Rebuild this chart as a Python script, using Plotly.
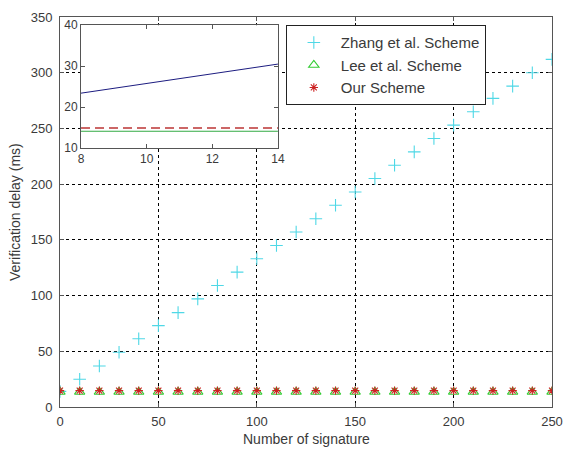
import plotly.graph_objects as go

# ---- data ----
n_sig = [0, 10, 20, 30, 40, 50, 60, 70, 80, 90, 100, 110, 120, 130, 140, 150,
         160, 170, 180, 190, 200, 210, 220, 230, 240, 250]
zhang = [14, 24.9, 36.8, 49.1, 61.3, 73, 84.7, 97, 109, 121, 133, 145, 157, 169,
         181, 193, 205, 217, 229, 241, 253, 265, 277, 288, 300, 312]
lee = [13.5] * 26
ours = [14.7] * 26

inset_x = [8, 10, 12, 14]
inset_zhang = [23.4, 25.8, 28.1, 30.5]
inset_lee = [14.1, 14.1, 14.1, 14.1]
inset_ours = [14.9, 14.9, 14.9, 14.9]

x_ticks = [0, 50, 100, 150, 200, 250]
y_ticks = [0, 50, 100, 150, 200, 250, 300, 350]
inset_xticks = [8, 10, 12, 14]
inset_yticks = [10, 20, 30, 40]

FONT = "Liberation Sans, Arial, sans-serif"
TXT = "#3a3a3a"
AX = "#555555"

fig = go.Figure()
fig.add_trace(go.Scatter(x=n_sig, y=zhang, mode="markers", name="Zhang et al. Scheme",
                         marker=dict(symbol="cross-thin-open", size=9, color="#4fd8e6",
                                     line=dict(width=1.1, color="#4fd8e6"))))
fig.add_trace(go.Scatter(x=n_sig, y=lee, mode="markers", name="Lee et al. Scheme",
                         marker=dict(symbol="triangle-up-open", size=9, color="#33cc33",
                                     line=dict(width=1.1, color="#33cc33"))))
fig.add_trace(go.Scatter(x=n_sig, y=ours, mode="markers", name="Our Scheme",
                         marker=dict(symbol="asterisk-open", size=7, color="#cc2222",
                                     line=dict(width=1.1, color="#cc2222"))))

fig.add_trace(go.Scatter(x=inset_x, y=inset_zhang, mode="lines", xaxis="x2", yaxis="y2",
                         showlegend=False, line=dict(color="#1c1c80", width=1)))
fig.add_trace(go.Scatter(x=inset_x, y=inset_lee, mode="lines", xaxis="x2", yaxis="y2",
                         showlegend=False, line=dict(color="#33aa44", width=1)))
fig.add_trace(go.Scatter(x=inset_x, y=inset_ours, mode="lines", xaxis="x2", yaxis="y2",
                         showlegend=False, line=dict(color="#cc6666", width=2, dash="9px,5px")))

axis_common = dict(showline=True, linecolor=AX, linewidth=1, mirror="ticks",
                   ticks="inside", ticklen=4, tickcolor=AX, zeroline=False,
                   automargin=False, ticklabeloverflow="allow")
main_font = dict(family=FONT, size=13, color=TXT)
inset_font = dict(family=FONT, size=12, color=TXT)

fig.update_layout(
    width=563, height=449,
    margin=dict(l=60, r=11, t=17, b=42, autoexpand=False),
    paper_bgcolor="white", plot_bgcolor="white",
    font=dict(family=FONT, size=13, color=TXT),
    hovermode=False,
    xaxis=dict(range=[0, 250], tickvals=x_ticks, showgrid=True, gridcolor="black",
               griddash="3px,3px", gridwidth=1, tickfont=main_font,
               ticklabelstandoff=2, **axis_common),
    yaxis=dict(range=[0, 350], tickvals=y_ticks, showgrid=True, gridcolor="black",
               griddash="3px,3px", gridwidth=1, ticklabelstandoff=4, tickfont=main_font,
               **axis_common),
    xaxis2=dict(domain=[0.0427, 0.443], anchor="y2", range=[8, 14], tickvals=inset_xticks,
                showgrid=False, tickfont=inset_font, **axis_common),
    yaxis2=dict(domain=[0.664, 0.979], anchor="x2", range=[10, 40], tickvals=inset_yticks,
                showgrid=False, tickfont=inset_font, **axis_common),
    legend=dict(x=0.459, y=0.979, xanchor="left", yanchor="top",
                bgcolor="white", bordercolor="#222222", borderwidth=1,
                font=dict(family=FONT, size=15, color=TXT), itemwidth=44,
                tracegroupgap=0),
    showlegend=True,
    annotations=[
        dict(text="Number of signature", xref="paper", yref="paper", x=0.5, y=-0.082,
             xanchor="center", yanchor="middle", showarrow=False,
             font=dict(family=FONT, size=14, color=TXT)),
        dict(text="Verification delay (ms)", xref="paper", yref="paper", x=-0.0915, y=0.5,
             xanchor="center", yanchor="middle", showarrow=False, textangle=-90,
             font=dict(family=FONT, size=14, color=TXT)),
    ],
)

fig.write_html("out.html", config={"displayModeBar": False},
               post_script="document.body.style.margin='0';document.body.style.overflow='hidden';")
